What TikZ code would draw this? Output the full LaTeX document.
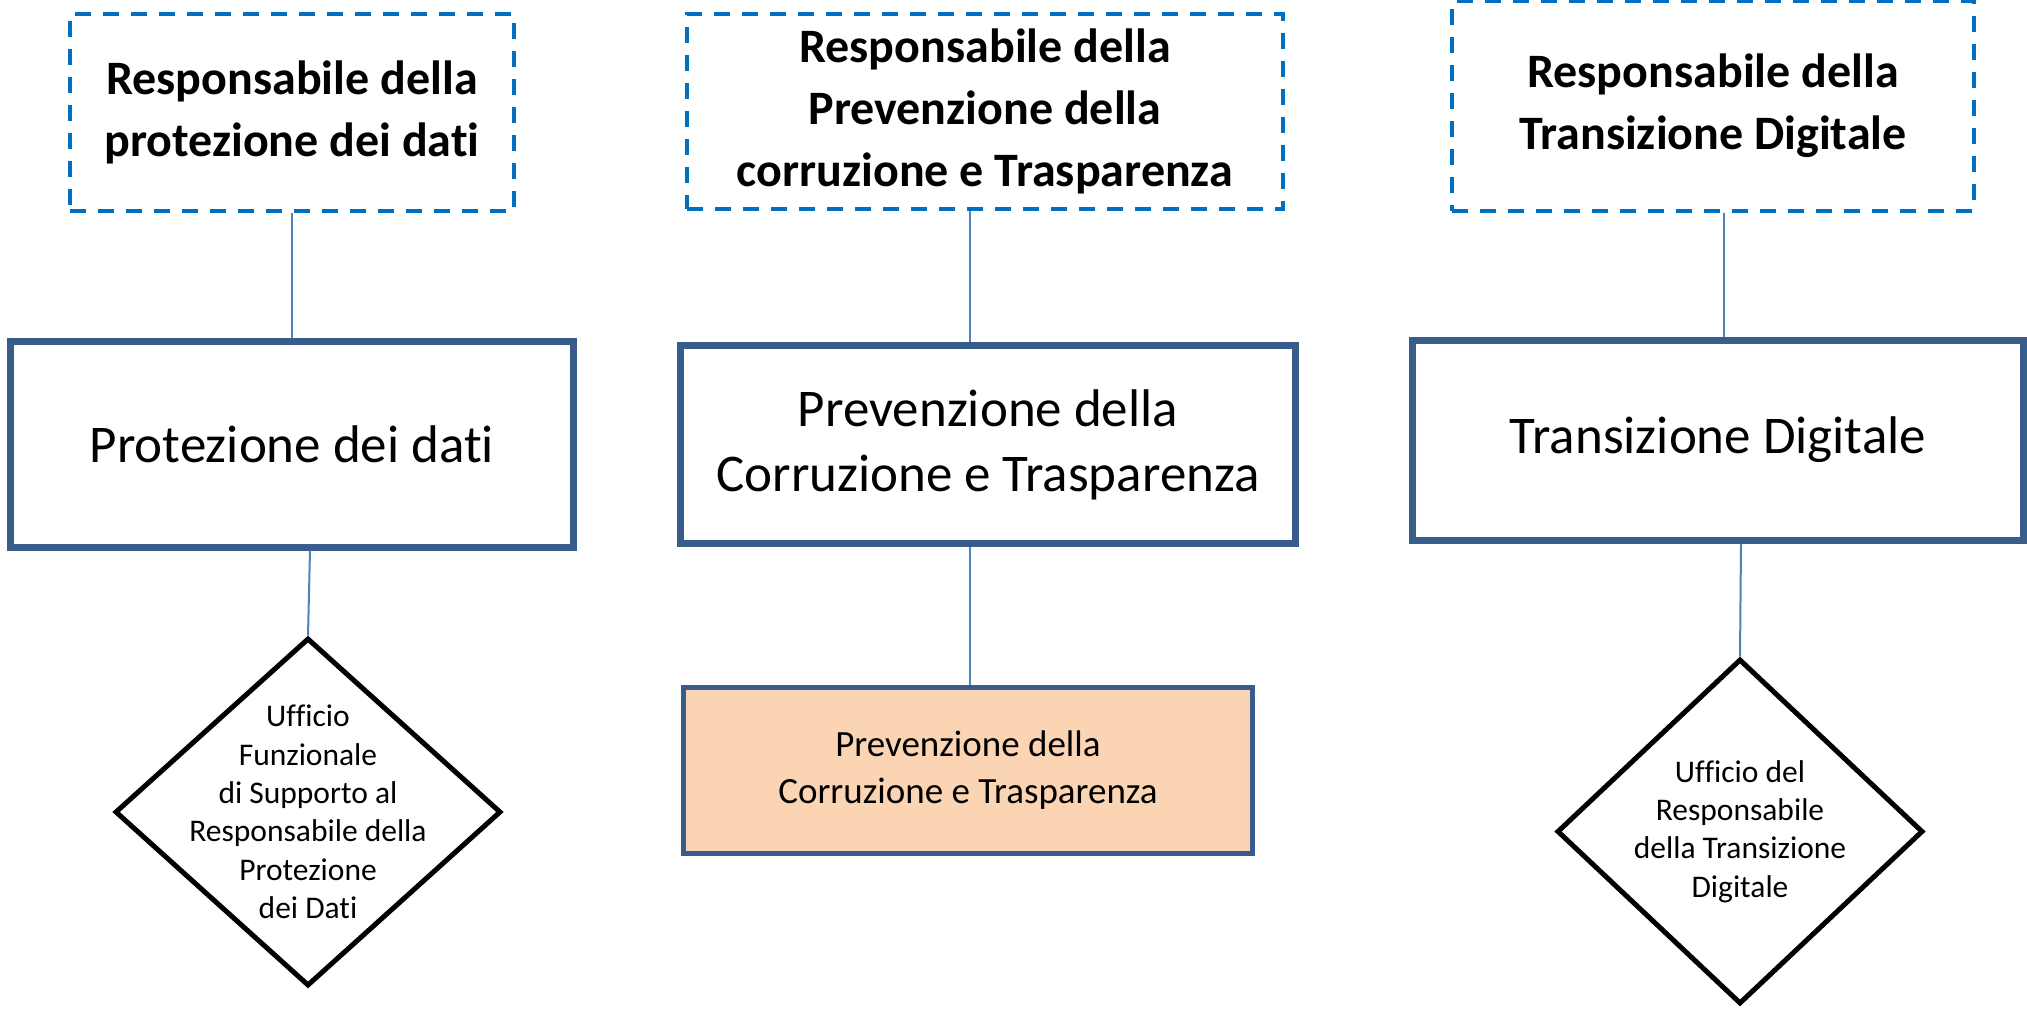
\documentclass[tikz,border=0pt]{standalone}
\usepackage{fontspec}
\setmainfont{Carlito}[Ligatures={NoCommon}]
\usetikzlibrary{shapes.geometric}
\definecolor{dashblue}{HTML}{0070C0}
\definecolor{boxblue}{HTML}{385D8A}
\definecolor{linkblue}{HTML}{4F81BD}
\definecolor{peach}{HTML}{FBD4B4}
\tikzset{
  respbox/.style={draw=dashblue, line width=4pt, dash pattern=on 16pt off 12pt,
    rectangle, inner sep=0pt, align=center, fill=white,
    font=\fontsize{48}{62}\selectfont\bfseries},
  areabox/.style={draw=boxblue, line width=7pt, rectangle, inner sep=0pt,
    align=center, fill=white, font=\fontsize{53}{65}\selectfont},
  unitbox/.style={draw=boxblue, line width=5pt, rectangle, inner sep=0pt,
    align=center, fill=peach, font=\fontsize{37}{47}\selectfont},
  officebox/.style={draw=black, line width=5pt, diamond, inner sep=-150pt,
    align=center, fill=white, font=\fontsize{31.5}{38.4}\selectfont},
  link/.style={draw=linkblue, line width=2pt}
}
\begin{document}
\begin{tikzpicture}[x=1pt,y=-1pt]
\useasboundingbox (0,0) rectangle (2027,1010);
% top dashed boxes
\node[respbox, minimum width=444pt, minimum height=197pt] (b1) at (292,112.5)
  {Responsabile della\\protezione dei dati};
\node[respbox, minimum width=596pt, minimum height=195pt] (b2) at (985,111.5)
  {Responsabile della\\Prevenzione della\\corruzione e Trasparenza};
\node[respbox, minimum width=521.5pt, minimum height=209.5pt] (b3) at (1713,106)
  {Responsabile della\\Transizione Digitale};
% main boxes
\node[areabox, minimum width=563.5pt, minimum height=206pt] (m1) at (292,444)
  {Protezione dei dati};
\node[areabox, minimum width=614.5pt, minimum height=198pt] (m2) at (988,444.5)
  {Prevenzione della\\Corruzione e Trasparenza};
\node[areabox, minimum width=610.5pt, minimum height=200pt] (m3) at (1718,440)
  {Transizione Digitale};
% lower units
\node[officebox, minimum width=386pt, minimum height=348pt] (d1) at (308,812)
  {Ufficio\\Funzionale\\di Supporto al\\Responsabile della\\Protezione\\dei Dati};
\node[unitbox, minimum width=568.5pt, minimum height=166pt] (o2) at (968,770)
  {Prevenzione della\\Corruzione e Trasparenza};
\node[officebox, minimum width=366pt, minimum height=345pt] (d3) at (1740,831.5)
  {Ufficio del\\Responsabile\\della Transizione\\Digitale};
% connectors
\draw[link] (b1.south) -- (m1.north);
\draw[link] ([xshift=18pt]m1.south) -- (d1.north);
\draw[link] ([xshift=-15pt]b2.south) -- ([xshift=-18pt]m2.north);
\draw[link] ([xshift=-18pt]m2.south) -- ([xshift=2pt]o2.north);
\draw[link] ([xshift=11pt]b3.south) -- ([xshift=6pt]m3.north);
\draw[link] ([xshift=23pt]m3.south) -- (d3.north);
\end{tikzpicture}
\end{document}
